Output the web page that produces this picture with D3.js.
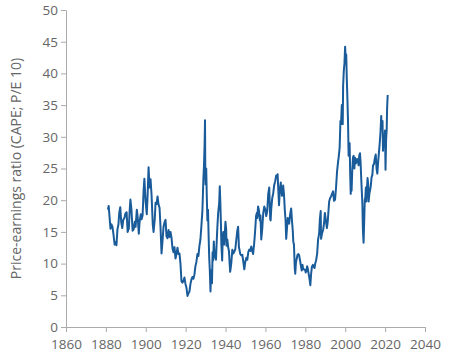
<!DOCTYPE html>
<html>
<head>
<meta charset="utf-8">
<script src="https://cdn.jsdelivr.net/npm/d3@7"></script>
<style>
  body { margin: 0; background: #fff; }
  .axis text { font-family: "Open Sans", sans-serif; font-size: 13.5px; fill: #666; }
  .axis path, .axis line { stroke: #aaa; }
  .ylabel { font-family: "Open Sans", sans-serif; font-size: 14px; fill: #666; }
</style>
</head>
<body>
<div id="chart"></div>
<script>
// CAPE values (decimal year, ratio)
var years = [1881.0,1881.4,1881.8,1882.3,1882.8,1883.3,1883.8,1884.4,1884.8,1885.3,1885.8,1886.3,1886.7,1887.2,1887.7,1888.2,1888.7,1889.3,1889.8,1890.4,1890.9,1891.5,1891.9,1892.3,1892.8,1893.4,1893.9,1894.5,1894.9,1895.5,1895.9,1896.5,1896.9,1897.5,1897.9,1898.4,1898.9,1899.3,1899.9,1900.5,1900.9,1901.4,1901.9,1902.4,1902.9,1903.5,1903.9,1904.5,1904.9,1905.4,1905.9,1906.4,1906.9,1907.4,1907.9,1908.4,1908.9,1909.4,1909.9,1910.4,1910.9,1911.4,1911.9,1912.4,1912.9,1913.4,1913.9,1914.4,1914.9,1915.4,1915.9,1916.4,1916.9,1917.4,1917.9,1918.4,1918.9,1919.4,1919.9,1920.4,1920.9,1921.4,1921.9,1922.4,1922.9,1923.4,1923.9,1924.4,1924.9,1925.4,1925.9,1926.4,1926.9,1927.4,1927.9,1928.4,1928.9,1929.2,1929.5,1929.7,1929.85,1930.0,1930.3,1930.6,1930.9,1931.2,1931.5,1931.8,1932.1,1932.45,1932.7,1932.95,1933.2,1933.5,1933.8,1934.1,1934.5,1934.8,1935.2,1935.5,1935.9,1936.3,1936.8,1937.1,1937.4,1937.7,1937.9,1938.3,1938.6,1938.9,1939.3,1939.7,1939.95,1940.3,1940.5,1940.9,1941.3,1941.7,1942.0,1942.3,1942.7,1942.9,1943.4,1943.9,1944.4,1944.9,1945.4,1945.9,1946.3,1946.7,1946.9,1947.4,1947.9,1948.4,1948.9,1949.4,1949.9,1950.4,1950.9,1951.4,1951.9,1952.4,1952.9,1953.4,1953.8,1954.3,1954.8,1955.3,1955.7,1955.9,1956.3,1956.7,1957.2,1957.5,1957.9,1958.4,1958.9,1959.4,1959.9,1960.4,1960.9,1961.4,1961.9,1962.4,1962.6,1962.9,1963.4,1963.9,1964.4,1964.9,1965.4,1965.8,1966.1,1966.5,1966.8,1967.2,1967.7,1967.9,1968.3,1968.9,1969.3,1969.7,1970.1,1970.4,1970.8,1971.2,1971.6,1971.9,1972.4,1972.9,1973.3,1973.7,1973.95,1974.3,1974.7,1974.95,1975.3,1975.7,1976.1,1976.5,1976.9,1977.4,1977.9,1978.2,1978.6,1978.9,1979.4,1979.9,1980.2,1980.6,1980.9,1981.3,1981.7,1982.1,1982.5,1982.9,1983.3,1983.8,1984.2,1984.6,1984.95,1985.4,1985.9,1986.4,1986.9,1987.3,1987.7,1987.9,1988.4,1988.9,1989.4,1989.8,1990.2,1990.8,1991.2,1991.6,1991.95,1992.4,1992.9,1993.4,1993.9,1994.4,1994.9,1995.4,1995.9,1996.4,1996.8,1997.2,1997.6,1997.9,1998.3,1998.6,1998.75,1998.95,1999.3,1999.6,1999.95,2000.2,2000.5,2000.8,2001.1,2001.4,2001.7,2001.9,2002.2,2002.5,2002.75,2002.95,2003.2,2003.5,2003.9,2004.2,2004.6,2004.9,2005.3,2005.7,2005.95,2006.4,2006.7,2007.0,2007.4,2007.7,2007.95,2008.3,2008.6,2008.85,2009.2,2009.5,2009.8,2010.1,2010.35,2010.6,2010.9,2011.2,2011.5,2011.75,2012.1,2012.4,2012.8,2013.2,2013.6,2013.95,2014.4,2014.8,2015.3,2015.7,2016.1,2016.5,2016.9,2017.3,2017.7,2018.05,2018.2,2018.7,2018.95,2019.3,2019.7,2019.95,2020.2,2020.5,2020.8,2021.0,2021.3];

var cape = [18.5,19.1,17.5,15.5,16.2,15.8,14.6,13.0,13.4,12.9,15.4,16.2,18.0,18.9,16.5,15.6,16.9,17.2,17.9,18.1,15.0,15.5,18.2,20.1,18.6,15.2,15.4,16.6,15.8,18.5,17.5,14.7,16.6,17.8,17.0,17.6,21.5,23.4,19.8,17.8,20.6,25.2,22.0,23.3,20.8,16.2,15.0,17.0,19.6,19.4,20.6,19.3,18.8,15.7,11.6,13.6,15.8,16.5,16.9,14.3,14.0,15.3,14.2,15.0,14.1,12.4,11.8,12.6,10.8,11.6,12.5,11.5,11.6,10.0,7.2,7.0,7.3,7.8,6.8,6.2,4.9,5.3,5.6,6.8,7.5,7.9,7.6,8.3,9.6,10.3,11.5,11.2,12.8,13.8,16.0,18.4,23.5,25.5,29.0,32.6,24.0,22.5,25.0,20.5,16.8,18.5,14.5,11.0,9.0,5.6,8.9,7.5,6.9,11.8,10.5,13.5,11.2,11.0,10.6,13.0,15.8,18.0,19.5,22.2,19.5,16.0,13.0,10.5,14.2,15.0,13.0,15.2,16.6,15.5,12.8,13.8,12.6,12.0,10.3,8.7,9.6,10.2,12.2,11.6,11.9,12.3,13.8,15.2,15.8,12.6,12.3,11.5,11.3,11.4,10.3,9.1,10.3,10.9,10.6,11.8,12.2,12.0,12.7,12.0,11.5,13.0,15.0,17.5,18.0,17.2,19.0,18.5,16.8,17.6,13.8,15.5,18.0,19.0,18.6,17.5,18.3,21.0,22.0,17.0,16.8,18.6,20.3,21.1,22.4,23.0,23.9,23.8,24.1,21.3,19.2,21.5,22.8,21.8,20.7,22.3,20.9,18.5,16.8,13.9,15.6,17.2,17.0,16.3,17.8,18.7,16.8,15.2,13.5,13.0,9.2,8.4,10.2,10.8,11.4,11.5,11.3,10.4,9.4,8.9,9.8,9.1,9.1,9.0,8.6,8.9,9.6,9.1,8.3,7.6,6.6,8.4,9.5,9.8,9.5,9.3,10.0,10.5,11.5,13.8,14.7,17.0,18.3,13.9,14.8,15.3,16.4,18.0,17.0,15.6,16.5,18.3,19.8,20.3,20.6,21.0,21.4,19.9,20.1,22.0,24.5,26.0,27.0,28.3,32.5,32.0,35.0,34.0,32.0,38.0,40.5,41.5,44.2,42.5,43.0,39.0,36.0,32.5,27.0,28.5,29.0,24.0,21.0,23.0,21.5,24.5,26.8,27.0,25.0,26.7,25.8,26.0,26.5,26.3,25.5,27.0,27.4,26.0,24.0,21.5,19.5,15.5,13.3,16.5,20.0,20.5,22.0,19.8,21.8,23.5,22.6,19.8,21.0,21.5,22.2,23.6,24.0,25.5,25.7,26.5,27.2,25.0,24.2,26.0,27.5,29.0,30.8,33.3,31.5,32.5,27.8,30.3,29.8,31.0,24.8,29.5,31.2,34.5,36.6];

var xTicks = [1860, 1880, 1900, 1920, 1940, 1960, 1980, 2000, 2020, 2040];
var yTicks = [0, 5, 10, 15, 20, 25, 30, 35, 40, 45, 50];

var svgWidth = 460;
var svgHeight = 359;

var margin = { top: 10, right: 35, bottom: 32, left: 66 };
var width = svgWidth - margin.left - margin.right;
var height = svgHeight - margin.top - margin.bottom;

var svg = d3.select("#chart")
    .append("svg")
    .attr("width", svgWidth)
    .attr("height", svgHeight);

var chartGroup = svg.append("g")
    .attr("transform", `translate(${margin.left}, ${margin.top})`);

var xScale = d3.scaleLinear().domain([1860, 2040]).range([0, width]);
var yScale = d3.scaleLinear().domain([0, 50]).range([height, 0]);

var bottomAxis = d3.axisBottom(xScale)
    .tickValues(xTicks)
    .tickFormat(d3.format("d"))
    .tickSizeInner(5)
    .tickSizeOuter(0)
    .tickPadding(7);

var leftAxis = d3.axisLeft(yScale)
    .tickValues(yTicks)
    .tickSizeInner(5)
    .tickSizeOuter(0)
    .tickPadding(3);

chartGroup.append("g")
    .attr("class", "axis")
    .attr("transform", `translate(0, ${height})`)
    .call(bottomAxis);

chartGroup.append("g")
    .attr("class", "axis")
    .call(leftAxis);

var data = years.map((y, i) => ({ year: y, value: cape[i] }));

var line = d3.line()
    .x(d => xScale(d.year))
    .y(d => yScale(d.value));

chartGroup.append("path")
    .datum(data)
    .attr("fill", "none")
    .attr("stroke", "#1a5b9a")
    .attr("stroke-width", 2)
    .attr("stroke-linejoin", "round")
    .attr("d", line);

// y axis label
svg.append("text")
    .attr("class", "ylabel")
    .attr("transform", "rotate(-90)")
    .attr("x", -(margin.top + height / 2))
    .attr("y", 21)
    .attr("text-anchor", "middle")
    .text("Price-earnings ratio (CAPE; P/E 10)");
</script>
</body>
</html>
